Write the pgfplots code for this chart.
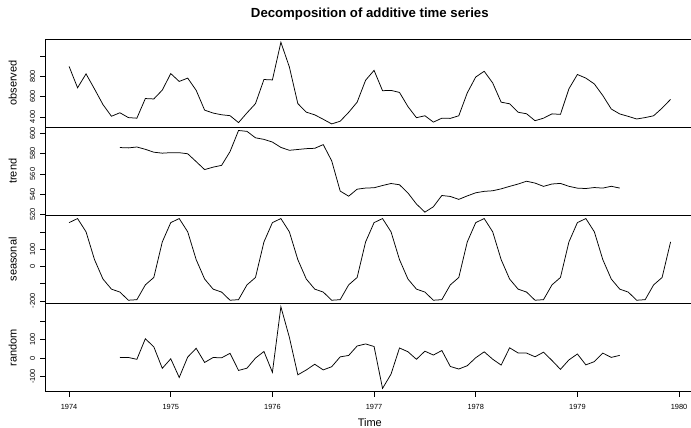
\documentclass[border=0pt]{standalone}
\usepackage{pgfplots}
\pgfplotsset{compat=1.18}
\usepackage{fontspec}
\setmainfont{Liberation Sans}

\pgfplotstableread{
x y
1974.0000 901
1974.0833 689
1974.1667 827
1974.2500 677
1974.3333 522
1974.4167 406
1974.5000 441
1974.5833 393
1974.6667 387
1974.7500 582
1974.8333 578
1974.9167 666
1975.0000 830
1975.0833 752
1975.1667 785
1975.2500 664
1975.3333 467
1975.4167 438
1975.5000 421
1975.5833 412
1975.6667 343
1975.7500 440
1975.8333 531
1975.9167 771
1976.0000 767
1976.0833 1141
1976.1667 896
1976.2500 532
1976.3333 447
1976.4167 420
1976.5000 376
1976.5833 330
1976.6667 357
1976.7500 445
1976.8333 546
1976.9167 764
1977.0000 862
1977.0833 660
1977.1667 663
1977.2500 643
1977.3333 502
1977.4167 392
1977.5000 411
1977.5833 348
1977.6667 387
1977.7500 385
1977.8333 411
1977.9167 638
1978.0000 796
1978.0833 853
1978.1667 737
1978.2500 546
1978.3333 530
1978.4167 446
1978.5000 431
1978.5833 362
1978.6667 387
1978.7500 430
1978.8333 425
1978.9167 679
1979.0000 821
1979.0833 785
1979.1667 727
1979.2500 612
1979.3333 478
1979.4167 429
1979.5000 405
1979.5833 379
1979.6667 393
1979.7500 411
1979.8333 487
1979.9167 574
}\observed

\pgfplotstableread{
x y
1974.5000 586.13
1974.5833 585.79
1974.6667 586.67
1974.7500 584.38
1974.8333 581.54
1974.9167 580.58
1975.0000 581.08
1975.0833 581.04
1975.1667 580.00
1975.2500 572.25
1975.3333 564.38
1975.4167 566.79
1975.5000 568.54
1975.5833 582.13
1975.6667 602.96
1975.7500 602.08
1975.8333 595.75
1975.9167 594.17
1976.0000 591.54
1976.0833 586.25
1976.1667 583.42
1976.2500 584.21
1976.3333 585.04
1976.4167 585.38
1976.5000 589.04
1976.5833 572.96
1976.6667 543.21
1976.7500 538.13
1976.8333 545.04
1976.9167 546.17
1977.0000 546.46
1977.0833 548.67
1977.1667 550.67
1977.2500 549.42
1977.3333 541.29
1977.4167 530.42
1977.5000 522.42
1977.5833 527.71
1977.6667 538.83
1977.7500 537.88
1977.8333 535.00
1977.9167 538.42
1978.0000 541.50
1978.0833 542.92
1978.1667 543.50
1978.2500 545.38
1978.3333 547.83
1978.4167 550.13
1978.5000 552.88
1978.5833 551.08
1978.6667 547.83
1978.7500 550.17
1978.8333 550.75
1978.9167 547.88
1979.0000 546.08
1979.0833 545.71
1979.1667 546.67
1979.2500 546.13
1979.3333 547.92
1979.4167 546.13
}\trend

\pgfplotstableread{
x y
1974.0000 253.31
1974.0833 276.72
1974.1667 200.19
1974.2500 39.36
1974.3333 -73.05
1974.4167 -131.33
1974.5000 -148.36
1974.5833 -195.49
1974.6667 -192.26
1974.7500 -106.69
1974.8333 -63.98
1974.9167 141.60
1975.0000 253.31
1975.0833 276.72
1975.1667 200.19
1975.2500 39.36
1975.3333 -73.05
1975.4167 -131.33
1975.5000 -148.36
1975.5833 -195.49
1975.6667 -192.26
1975.7500 -106.69
1975.8333 -63.98
1975.9167 141.60
1976.0000 253.31
1976.0833 276.72
1976.1667 200.19
1976.2500 39.36
1976.3333 -73.05
1976.4167 -131.33
1976.5000 -148.36
1976.5833 -195.49
1976.6667 -192.26
1976.7500 -106.69
1976.8333 -63.98
1976.9167 141.60
1977.0000 253.31
1977.0833 276.72
1977.1667 200.19
1977.2500 39.36
1977.3333 -73.05
1977.4167 -131.33
1977.5000 -148.36
1977.5833 -195.49
1977.6667 -192.26
1977.7500 -106.69
1977.8333 -63.98
1977.9167 141.60
1978.0000 253.31
1978.0833 276.72
1978.1667 200.19
1978.2500 39.36
1978.3333 -73.05
1978.4167 -131.33
1978.5000 -148.36
1978.5833 -195.49
1978.6667 -192.26
1978.7500 -106.69
1978.8333 -63.98
1978.9167 141.60
1979.0000 253.31
1979.0833 276.72
1979.1667 200.19
1979.2500 39.36
1979.3333 -73.05
1979.4167 -131.33
1979.5000 -148.36
1979.5833 -195.49
1979.6667 -192.26
1979.7500 -106.69
1979.8333 -63.98
1979.9167 141.60
}\seasonal

\pgfplotstableread{
x y
1974.5000 3.24
1974.5833 2.70
1974.6667 -7.41
1974.7500 104.32
1974.8333 60.44
1974.9167 -56.18
1975.0000 -4.39
1975.0833 -105.76
1975.1667 4.81
1975.2500 52.39
1975.3333 -24.33
1975.4167 2.54
1975.5000 0.82
1975.5833 25.37
1975.6667 -67.70
1975.7500 -55.39
1975.8333 -0.77
1975.9167 35.23
1976.0000 -77.85
1976.0833 278.03
1976.1667 112.39
1976.2500 -91.57
1976.3333 -64.99
1976.4167 -34.05
1976.5000 -64.68
1976.5833 -47.47
1976.6667 6.05
1976.7500 13.57
1976.8333 64.94
1976.9167 76.23
1977.0000 62.23
1977.0833 -165.39
1977.1667 -87.86
1977.2500 54.22
1977.3333 33.76
1977.4167 -7.09
1977.5000 36.94
1977.5833 15.78
1977.6667 40.43
1977.7500 -46.19
1977.8333 -60.02
1977.9167 -42.02
1978.0000 1.19
1978.0833 33.36
1978.1667 -6.69
1978.2500 -38.74
1978.3333 55.22
1978.4167 27.21
1978.5000 26.49
1978.5833 6.41
1978.6667 31.43
1978.7500 -13.48
1978.8333 -61.77
1978.9167 -10.48
1979.0000 21.61
1979.0833 -37.43
1979.1667 -19.86
1979.2500 26.52
1979.3333 3.13
1979.4167 14.21
}\random

\pgfplotsset{
  panel/.style={
    width=649.6pt, height=88.2pt, scale only axis,
    anchor=south west,
    xmin=1973.763, xmax=1980.153,
    axis line style={line width=0.8pt},
    xtick=\empty,
    ytick pos=left, tick align=outside, major tick length=5pt,
    tick style={line width=0.6pt, black},
    yticklabel style={xshift=-5pt, rotate=90, anchor=base,
      font=\fontsize{7.4}{8}\selectfont},
    every axis y label/.style={at={(axis description cs:0,0.5)},
      xshift=-28.3pt, rotate=90, anchor=base,
      font=\fontsize{11}{13}\selectfont},
    cycle list={{black, line width=0.75pt, mark=none}},
  }
}

\begin{document}
\begin{tikzpicture}
\useasboundingbox (0,0) rectangle (691pt,428pt);
\clip (0,0) rectangle (691pt,428pt);

\node[font=\fontsize{13.2}{15}\selectfont\bfseries] at (369.8pt,414pt)
  {Decomposition of additive time series};

\begin{axis}[panel, at={(45pt,300.8pt)},
    ymin=297.56, ymax=1173.44,
    ytick={400,600,800,1000}, yticklabels={400,600,800,{}},
    ylabel={observed}]
  \addplot[black, line width=0.75pt] table {\observed};
\end{axis}

\begin{axis}[panel, at={(45pt,212.6pt)},
    ymin=519.2, ymax=606.2,
    ytick={520,540,560,580,600},
    yticklabels={520,540,560,580,600},
    ylabel={trend}]
  \addplot[black, line width=0.75pt] table {\trend};
\end{axis}

\begin{axis}[panel, at={(45pt,124.5pt)},
    ymin=-214.38, ymax=295.61,
    ytick={-200,-100,0,100,200}, yticklabels={-200,{},0,100,{}},
    ylabel={seasonal}]
  \addplot[black, line width=0.75pt] table {\seasonal};
\end{axis}

\begin{axis}[panel, at={(45pt,36.3pt)},
    ymin=-183.13, ymax=295.77,
    ytick={-100,0,100,200}, yticklabels={-100,0,100,{}},
    xtick={1974,1975,1976,1977,1978,1979,1980},
    xticklabels={1974,1975,1976,1977,1978,1979,1980},
    xtick pos=bottom,
    xticklabel style={anchor=base, yshift=-12.8pt,
      font=\fontsize{7.4}{8}\selectfont},
    xlabel={Time},
    every axis x label/.style={at={(axis description cs:0.5,0)},
      anchor=base, yshift=-35.3pt, font=\fontsize{11}{13}\selectfont},
    ylabel={random}]
  \addplot[black, line width=0.75pt] table {\random};
\end{axis}
\end{tikzpicture}
\end{document}
